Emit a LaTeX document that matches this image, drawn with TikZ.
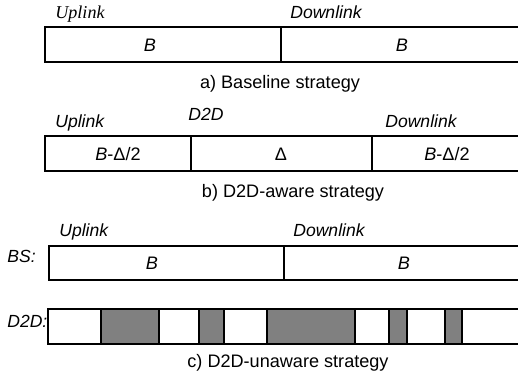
\documentclass[tikz,border=0pt]{standalone}
\usepackage{fontspec}
\setmainfont{Liberation Sans}
\newfontfamily\timesfont{Liberation Serif}
\tikzset{
  frame/.style={line width=1.1pt},
  busy/.style={fill=black!50, draw=black, line width=1.1pt},
  lbl/.style={font=\itshape, anchor=base west, inner sep=0pt},
  caption/.style={inner sep=0pt}
}
\begin{document}
\begin{tikzpicture}[x=0.02cm, y=-0.02cm, font=\fontsize{10.3}{12}\selectfont]
    \useasboundingbox (0,0) rectangle (518,382);
    % a) baseline
    \node[lbl, font=\timesfont\itshape\fontsize{10.3}{12}\selectfont] (ulA) at (55,18) {Uplink};
    \node[lbl] (dlA) at (290,18) {Downlink};
    \draw[frame] (45,27) rectangle (530,62);
    \draw[frame] (281,27) -- (281,62);
    \node (bA1) at (150,45) {\textit{B}};
    \node (bA2) at (402,45) {\textit{B}};
    \node[caption] (capA) at (280,84) {a) Baseline strategy};
    % b) D2D-aware
    \node[lbl] (ulB) at (55,127) {Uplink};
    \node[lbl] (dB) at (188,120) {D2D};
    \node[lbl] (dlB) at (385,127) {Downlink};
    \draw[frame] (45,136) rectangle (530,171);
    \draw[frame] (191,136) -- (191,171);
    \draw[frame] (372,136) -- (372,171);
    \node (bB1) at (118,154) {\textit{B}-Δ/2};
    \node (bB2) at (281,154) {Δ};
    \node (bB3) at (447,154) {\textit{B}-Δ/2};
    \node[caption] (capB) at (293,193) {b) D2D-aware strategy};
    % c) D2D-unaware
    \node[lbl] (ulC) at (59,236) {Uplink};
    \node[lbl] (dlC) at (293,236) {Downlink};
    \node[lbl] (bs) at (7,262) {BS:};
    \node[lbl] (d2d) at (7,327) {D2D:};
    \draw[frame] (49,246) rectangle (530,280);
    \draw[frame] (284,246) -- (284,280);
    \node (bC1) at (152,263) {\textit{B}};
    \node (bC2) at (404,263) {\textit{B}};
    \draw[frame] (48,309) rectangle (530,344);
    \foreach \a/\b in {101/159, 199/224, 267/355, 389/407, 445/462}
      \draw[busy] (\a,309) rectangle (\b,344);
    \node[caption] (capC) at (288,363) {c) D2D-unaware strategy};
\end{tikzpicture}
\end{document}
